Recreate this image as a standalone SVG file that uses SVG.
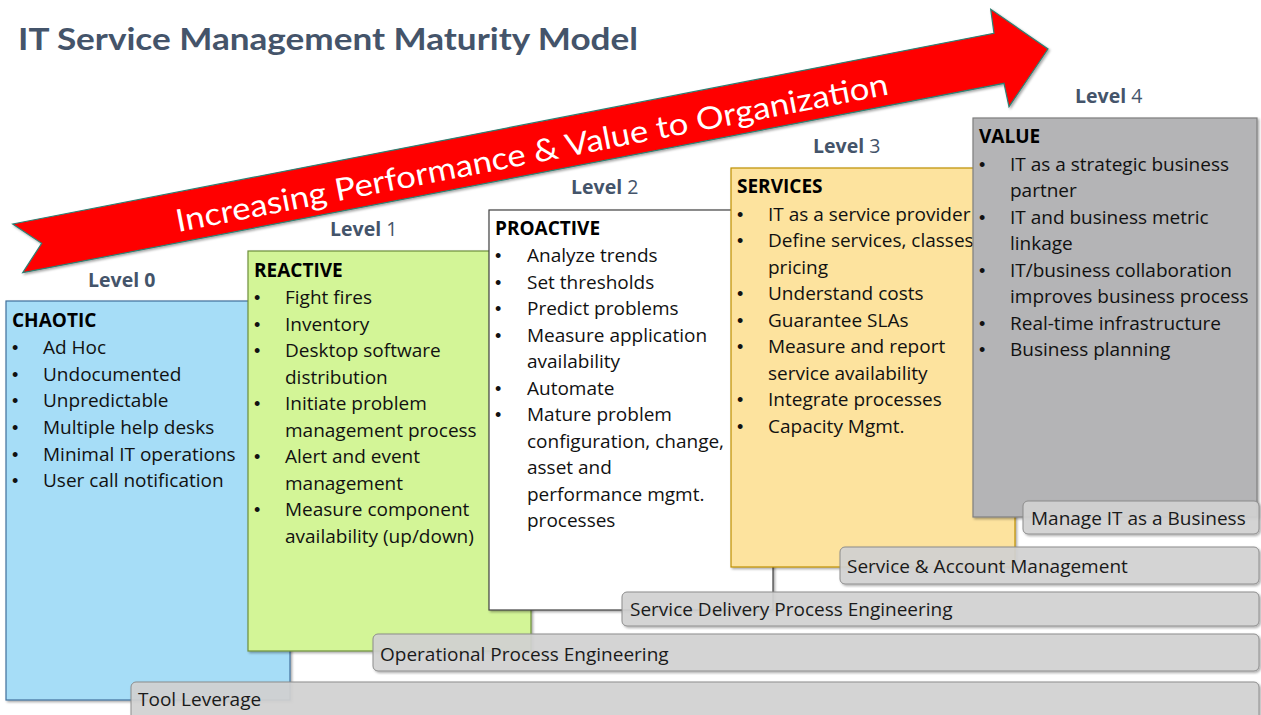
<svg xmlns="http://www.w3.org/2000/svg" width="1261" height="715" viewBox="0 0 1261 715">
  <defs>
    <filter id="shadow" x="-5%" y="-5%" width="110%" height="115%">
      <feDropShadow dx="1.5" dy="1.5" stdDeviation="1" flood-color="#000" flood-opacity="0.35"/>
    </filter>
    <style>
      text { font-family: "Open Sans", Lato, "Liberation Sans", sans-serif; }
      .title { font-family: Lato, "Open Sans", sans-serif; font-size: 30px; font-weight: 700; fill: #44546A; }
      .lvl { font-size: 19.5px; font-weight: 700; fill: #44546A; }
      .lvl .num { font-weight: 400; }
      .box { stroke-width: 1.2; filter: url(#shadow); }
      .head { font-size: 19px; font-weight: 700; fill: #000; }
      .item { font-size: 19px; fill: #111; }
      .bul { font-family: "Liberation Sans", sans-serif; font-size: 18px; }
      .bar rect { fill: #D4D4D4; fill-opacity: 0.9; stroke: #8C8C8C; stroke-width: 1; filter: url(#shadow); }
      .bar text { font-size: 19px; fill: #1A1A1A; }
      .arrow-label { font-family: Lato, "Open Sans", sans-serif; font-size: 31px; fill: #FFFFFF; }
    </style>
  </defs>

  <rect width="1261" height="715" fill="#FFFFFF"/>

  <!-- heading -->
  <g id="title">
    <text class="title" x="18" y="50" textLength="620" lengthAdjust="spacingAndGlyphs">IT Service Management Maturity Model</text>
  </g>

  <!-- rising arrow -->
  <g id="connectors">
    <g id="performance-arrow">
      <path d="M12.7,224 L994,33.3 L990.7,9.3 L1048,49 L1009,106.7 L1004,83.3 L22.7,272.7 L41.7,243.3 Z"
            fill="#FF0000" stroke="#2E7F72" stroke-width="1.2" stroke-linejoin="miter" filter="url(#shadow)"/>
      <text class="arrow-label" x="178" y="232" transform="rotate(-10.95 178 232)" textLength="725" lengthAdjust="spacingAndGlyphs">Increasing Performance &amp; Value to Organization</text>
    </g>
  </g>

  <!-- level captions -->
  <g id="level-captions">
    <text class="lvl" x="88" y="287">Level 0</text>
    <text class="lvl" x="330" y="236">Level <tspan class="num">1</tspan></text>
    <text class="lvl" x="571" y="194">Level <tspan class="num">2</tspan></text>
    <text class="lvl" x="813" y="153">Level <tspan class="num">3</tspan></text>
    <text class="lvl" x="1075" y="103">Level <tspan class="num">4</tspan></text>
  </g>

  <!-- Level 0 -->
  <g id="level0-chaotic">
    <rect class="box" x="6" y="301" width="284" height="399" fill="#A6DDF7" stroke="#41719C"/>
    <text class="head" x="12" y="327">CHAOTIC</text>
    <g class="item">
      <text class="bul" x="12" y="354">•</text><text x="43" y="354">Ad Hoc</text>
      <text class="bul" x="12" y="380.5">•</text><text x="43" y="380.5">Undocumented</text>
      <text class="bul" x="12" y="407">•</text><text x="43" y="407">Unpredictable</text>
      <text class="bul" x="12" y="434">•</text><text x="43" y="434">Multiple help desks</text>
      <text class="bul" x="12" y="460.5">•</text><text x="43" y="460.5">Minimal IT operations</text>
      <text class="bul" x="12" y="487">•</text><text x="43" y="487">User call notification</text>
    </g>
  </g>

  <!-- Level 1 -->
  <g id="level1-reactive">
    <rect class="box" x="248" y="251" width="283" height="400" fill="#D3F597" stroke="#6E8F3C"/>
    <text class="head" x="254" y="277">REACTIVE</text>
    <g class="item">
      <text class="bul" x="254" y="304">•</text><text x="285" y="304">Fight fires</text>
      <text class="bul" x="254" y="330.5">•</text><text x="285" y="330.5">Inventory</text>
      <text class="bul" x="254" y="357">•</text><text x="285" y="357">Desktop software</text>
      <text x="285" y="383.5">distribution</text>
      <text class="bul" x="254" y="410">•</text><text x="285" y="410">Initiate problem</text>
      <text x="285" y="436.5">management process</text>
      <text class="bul" x="254" y="463">•</text><text x="285" y="463">Alert and event</text>
      <text x="285" y="489.5">management</text>
      <text class="bul" x="254" y="516">•</text><text x="285" y="516">Measure component</text>
      <text x="285" y="542.5">availability (up/down)</text>
    </g>
  </g>

  <!-- Level 2 -->
  <g id="level2-proactive">
    <rect class="box" x="489" y="210" width="284" height="400" fill="#FFFFFF" stroke="#404040"/>
    <text class="head" x="495" y="235">PROACTIVE</text>
    <g class="item">
      <text class="bul" x="495" y="262">•</text><text x="527" y="262">Analyze trends</text>
      <text class="bul" x="495" y="288.5">•</text><text x="527" y="288.5">Set thresholds</text>
      <text class="bul" x="495" y="315">•</text><text x="527" y="315">Predict problems</text>
      <text class="bul" x="495" y="341.5">•</text><text x="527" y="341.5">Measure application</text>
      <text x="527" y="368">availability</text>
      <text class="bul" x="495" y="394.5">•</text><text x="527" y="394.5">Automate</text>
      <text class="bul" x="495" y="421">•</text><text x="527" y="421">Mature problem</text>
      <text x="527" y="447.5">configuration, change,</text>
      <text x="527" y="474">asset and</text>
      <text x="527" y="500.5">performance mgmt.</text>
      <text x="527" y="527">processes</text>
    </g>
  </g>

  <!-- Level 3 -->
  <g id="level3-services">
    <rect class="box" x="731" y="168" width="284" height="399" fill="#FDE39E" stroke="#BF9000"/>
    <text class="head" x="737" y="193">SERVICES</text>
    <g class="item">
      <text class="bul" x="737" y="220.5">•</text><text x="768" y="220.5">IT as a service provider</text>
      <text class="bul" x="737" y="247">•</text><text x="768" y="247">Define services, classes</text>
      <text x="768" y="273.5">pricing</text>
      <text class="bul" x="737" y="300">•</text><text x="768" y="300">Understand costs</text>
      <text class="bul" x="737" y="326.5">•</text><text x="768" y="326.5">Guarantee SLAs</text>
      <text class="bul" x="737" y="353">•</text><text x="768" y="353">Measure and report</text>
      <text x="768" y="379.5">service availability</text>
      <text class="bul" x="737" y="406">•</text><text x="768" y="406">Integrate processes</text>
      <text class="bul" x="737" y="432.5">•</text><text x="768" y="432.5">Capacity Mgmt.</text>
    </g>
  </g>

  <!-- Level 4 -->
  <g id="level4-value">
    <rect class="box" x="973" y="118" width="284" height="399" fill="#B4B4B6" stroke="#7F7F7F"/>
    <text class="head" x="979" y="143">VALUE</text>
    <g class="item">
      <text class="bul" x="979" y="170.5">•</text><text x="1010" y="170.5">IT as a strategic business</text>
      <text x="1010" y="197">partner</text>
      <text class="bul" x="979" y="223.5">•</text><text x="1010" y="223.5">IT and business metric</text>
      <text x="1010" y="250">linkage</text>
      <text class="bul" x="979" y="276.5">•</text><text x="1010" y="276.5">IT/business collaboration</text>
      <text x="1010" y="303">improves business process</text>
      <text class="bul" x="979" y="329.5">•</text><text x="1010" y="329.5">Real-time infrastructure</text>
      <text class="bul" x="979" y="356">•</text><text x="1010" y="356">Business planning</text>
    </g>
  </g>

  <!-- capability bands -->
  <g id="bar-manage-it" class="bar">
    <rect x="1023" y="501" width="236" height="33" rx="5"/>
    <text x="1031" y="525">Manage IT as a Business</text>
  </g>
  <g id="bar-service-account" class="bar">
    <rect x="840" y="547" width="419" height="37" rx="5"/>
    <text x="847" y="573">Service &amp; Account Management</text>
  </g>
  <g id="bar-service-delivery" class="bar">
    <rect x="622" y="592" width="637" height="34" rx="5"/>
    <text x="630" y="616">Service Delivery Process Engineering</text>
  </g>
  <g id="bar-operational" class="bar">
    <rect x="373" y="634" width="886" height="37" rx="5"/>
    <text x="380" y="661">Operational Process Engineering</text>
  </g>
  <g id="bar-tool-leverage" class="bar">
    <rect x="131" y="682" width="1128" height="45" rx="5"/>
    <text x="138" y="706">Tool Leverage</text>
  </g>
</svg>
